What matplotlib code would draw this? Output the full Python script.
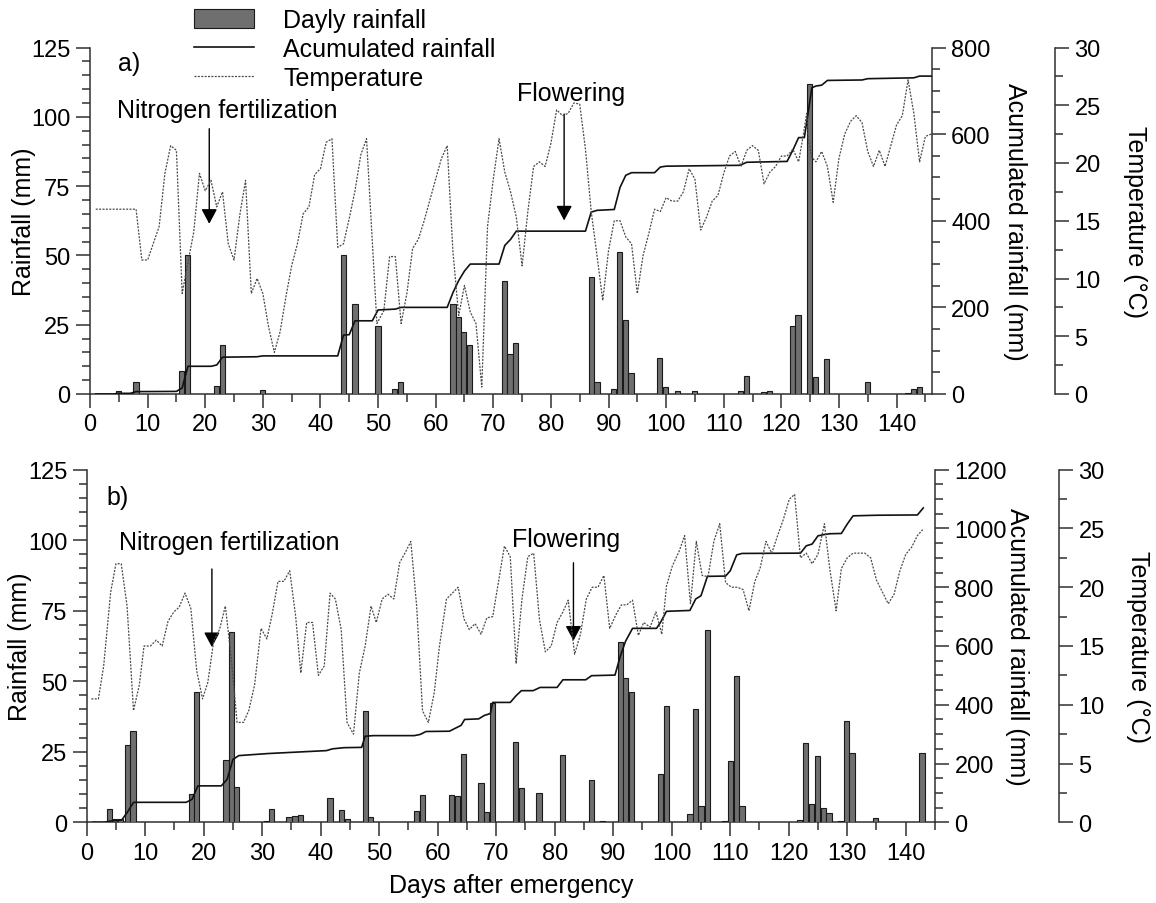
import matplotlib
matplotlib.use('Agg')
import matplotlib.pyplot as plt
from matplotlib.patches import Patch
from matplotlib.lines import Line2D
from matplotlib.ticker import MultipleLocator

plt.rcParams['font.family'] = ['Liberation Sans', 'DejaVu Sans']

# ---------------- Panel a) data ----------------
a_rain_days = [4.9, 8.0, 15.9, 16.9, 22.0, 23.0, 30.0, 44.0, 46.0, 50.0, 52.9, 53.9,
               63.0, 63.9, 64.9, 65.9, 71.9, 72.9, 73.9, 87.0, 88.0, 90.8, 91.9, 92.9,
               93.9, 98.9, 99.9, 102.0, 104.9, 112.9, 113.9, 116.9, 117.9, 121.9, 122.9,
               124.9, 125.9, 127.9, 134.9, 142.0, 143.0, 144.0]
a_rain_mm = [1.2, 4.2, 8.4, 50.0, 3.0, 17.8, 1.4, 50.0, 32.3, 24.7, 1.8, 4.5,
             32.3, 27.9, 22.3, 17.8, 40.9, 14.5, 18.4, 42.1, 4.5, 1.8, 51.2, 26.7,
             7.6, 13.0, 2.4, 1.0, 1.2, 1.2, 6.6, 0.8, 1.0, 24.4, 28.5,
             112.0, 6.0, 12.6, 4.2, 0.3, 1.8, 2.4]

a_acc_days = [1, 4, 5, 7, 8, 15, 16, 17, 21, 22, 23, 29, 30, 43, 44, 45, 46, 49, 50, 53,
              54, 62, 63, 64, 65, 66, 71, 72, 73, 74, 86, 87, 88, 91, 92, 93, 94, 98, 99,
              100, 112.8, 114, 121, 122, 123, 124, 125.3, 126, 127, 128, 134, 135, 143,
              144, 146]
a_acc_mm = [0, 0, 1.5, 1.5, 5.5, 6, 14, 64, 64, 67, 85, 86, 88, 88, 136, 137, 169, 169,
            194, 196, 200, 200, 234, 262, 284, 300, 300, 343, 357, 376, 376, 420, 424,
            426, 477, 505, 511, 511, 524, 526, 528, 535, 537, 563, 592, 592, 707, 711,
            713, 724, 725, 728, 730, 734, 734]

a_temp_days = [1, 8, 9, 10, 12, 13, 14, 15, 16, 16.7, 18, 19, 20, 21, 22, 23, 24, 25, 26,
               27, 28, 29, 30, 31, 32, 33, 34, 35, 36, 37, 38, 39, 40, 41, 42, 43, 44, 45,
               46, 47, 48, 49.8, 51, 52, 53, 54, 55, 56, 57, 58, 59, 60, 61, 62, 63, 64,
               65, 66, 67, 68, 69, 70, 71, 72, 73, 74, 75, 76, 77, 78, 79, 80, 81, 82, 83,
               84, 85, 86, 87, 88, 89, 90, 91, 92, 93, 94, 95, 96, 97, 98, 99, 100, 101,
               102, 103, 104, 105, 106, 107, 108, 109, 110, 111, 112, 113, 114, 115, 116,
               117, 118, 119, 120, 121, 122, 123, 123.8, 124.4, 124.7, 125.3, 126, 127,
               128, 129, 130, 131, 132, 133, 134, 135, 136, 137, 138, 139, 140, 141, 142,
               143, 144, 145, 146]
a_temp_c = [16.0, 16.0, 11.6, 11.6, 14.5, 19.1, 21.5, 21.1, 8.7, 10.6, 14.0, 19.1, 17.6,
            18.5, 16.2, 17.5, 13.0, 11.6, 15.5, 18.5, 8.7, 10.0, 8.7, 5.8, 3.6, 5.4, 8.4,
            11.1, 13.0, 15.6, 16.2, 19.0, 19.5, 21.8, 22.1, 12.7, 13.0, 15.2, 17.6, 20.7,
            22.1, 6.1, 7.2, 11.9, 11.9, 6.1, 8.7, 12.6, 13.4, 15.0, 16.8, 18.6, 20.4, 21.5,
            12.3, 6.8, 9.4, 7.1, 6.1, 0.6, 14.5, 18.6, 22.1, 19.2, 17.5, 15.3, 11.1, 15.8,
            19.7, 20.1, 19.7, 21.7, 24.6, 24.1, 24.3, 25.2, 25.1, 21.2, 15.8, 12.0, 8.1,
            12.4, 15.0, 15.0, 13.6, 13.0, 8.7, 12.0, 13.9, 16.0, 15.8, 17.0, 16.7, 16.7,
            17.5, 19.5, 18.6, 14.2, 15.3, 16.7, 17.2, 19.1, 20.6, 21.0, 19.7, 21.1, 21.5,
            21.1, 18.2, 19.2, 19.7, 20.6, 20.6, 21.2, 20.1, 22.4, 24.3, 22.0, 20.5, 20.1,
            21.0, 19.7, 16.6, 20.4, 22.5, 23.6, 24.1, 23.5, 21.0, 19.7, 21.1, 19.7, 21.5,
            23.3, 24.1, 27.2, 24.3, 20.1, 22.3, 22.5]

# ---------------- Panel b) data ----------------
b_rain_days = [3.9, 4.8, 5.8, 7.0, 7.9, 17.9, 18.8, 23.8, 24.7, 25.6, 30.7, 31.6, 34.6,
               35.6, 36.6, 41.6, 43.6, 44.6, 47.6, 48.5, 56.4, 57.4, 62.4, 63.4, 64.4,
               67.4, 68.4, 69.4, 73.3, 74.3, 77.3, 81.3, 86.3, 88.2, 91.2, 92.1, 93.1,
               98.1, 99.1, 103.1, 104.1, 105.0, 106.1, 109.1, 110.0, 111.1, 112.0, 121.9,
               122.9, 123.9, 124.9, 125.9, 126.9, 128.8, 129.9, 130.8, 134.8, 142.8]
b_rain_mm = [4.6, 1.2, 1.2, 27.4, 32.3, 10.0, 46.3, 22.2, 67.6, 12.6, 0.6, 4.8, 2.0,
             2.4, 2.7, 8.5, 4.3, 1.2, 39.6, 2.0, 4.0, 9.8, 9.6, 9.5, 24.2,
             13.8, 3.8, 42.3, 28.6, 12.0, 10.4, 24.0, 15.0, 0.6, 63.8, 51.2, 46.1,
             17.1, 41.4, 2.9, 40.2, 5.9, 68.3, 0.4, 21.6, 51.8, 5.7, 0.7,
             28.1, 6.5, 23.6, 5.2, 3.2, 0.4, 36.0, 24.6, 1.5, 24.6]

b_acc_days = [1, 3, 4, 5, 6, 7, 8, 17, 18, 19, 23, 24, 25, 26, 31, 35, 41, 42, 44, 47,
              47.6, 49, 56, 57, 58, 62, 63, 64, 64.6, 67, 68, 69, 69.4, 72.4, 73.4, 74.3,
              76.3, 77.5, 80.4, 81.4, 85.3, 86.3, 90.3, 91.2, 92.1, 93.3, 97.4, 98.1,
              99.1, 103.1, 104.1, 105.0, 106.1, 109.2, 110.0, 111.1, 112.0, 122.0, 123.0,
              124.0, 125.0, 126.0, 127.0, 129.0, 130.0, 131.0, 135.0, 142.0, 143.0]
b_acc_mm = [0, 0, 4, 6, 8, 36, 68, 68, 78, 124, 124, 146, 214, 227, 234, 238, 244, 250,
            254, 255, 293, 295, 295, 299, 309, 310, 320, 330, 350, 352, 364, 370, 408,
            408, 431, 448, 448, 459, 459, 485, 485, 499, 501, 565, 616, 660, 660, 681,
            718, 721, 760, 771, 837, 838, 856, 910, 915, 916, 941, 947, 975, 979, 982,
            983, 1015, 1043, 1045, 1046, 1070]

b_temp_days = [0.8, 2.0, 2.9, 4.1, 5.0, 5.9, 6.9, 8.0, 9.0, 9.8, 10.9, 11.9, 12.9, 13.9,
               14.9, 15.8, 16.8, 17.8, 18.8, 19.8, 20.7, 21.7, 22.7, 23.7, 24.7, 25.7,
               26.8, 27.7, 28.7, 29.8, 30.8, 31.7, 32.7, 33.7, 34.7, 35.7, 36.6, 37.6,
               38.6, 39.6, 40.6, 41.6, 42.5, 43.5, 44.5, 45.6, 46.6, 47.6, 48.6, 49.5,
               50.5, 51.5, 52.5, 53.5, 54.5, 55.4, 56.4, 57.4, 58.4, 59.4, 60.3, 61.5,
               62.5, 63.5, 64.5, 65.4, 66.4, 67.4, 68.4, 69.4, 70.4, 71.4, 72.4, 73.4,
               74.4, 75.4, 76.4, 77.4, 78.4, 79.4, 80.4, 81.4, 82.3, 83.4, 84.4, 85.4,
               86.4, 87.4, 88.4, 89.4, 90.4, 91.4, 92.3, 93.3, 94.3, 95.2, 96.3, 97.3,
               98.3, 99.1, 100.1, 101.3, 102.2, 103.2, 104.2, 105.2, 106.2, 107.2, 108.2,
               109.2, 110.2, 111.2, 112.2, 113.2, 114.2, 115.1, 116.1, 117.1, 118.1,
               119.1, 120.1, 121.0, 122.0, 123.0, 124.0, 125.0, 126.1, 127.0, 128.1,
               129.0, 130.0, 131.0, 132.0, 133.0, 134.0, 135.0, 136.0, 137.0, 138.0,
               139.0, 140.0, 141.0, 142.0, 142.9]
b_temp_c = [10.5, 10.5, 13.3, 19.6, 22.0, 22.0, 18.4, 9.5, 11.7, 15.0, 15.0, 15.5, 15.0,
            17.1, 17.9, 18.3, 19.5, 18.2, 12.9, 10.5, 11.9, 15.4, 16.4, 18.4, 14.0, 8.5,
            8.5, 9.5, 11.7, 16.5, 15.6, 17.7, 20.5, 20.5, 21.4, 17.6, 12.7, 17.0, 17.0,
            12.5, 13.3, 19.5, 19.0, 16.4, 8.5, 7.5, 12.7, 15.0, 18.4, 17.0, 19.0, 19.4,
            19.0, 22.1, 23.0, 23.9, 18.4, 9.5, 8.5, 11.0, 15.0, 19.0, 19.5, 20.0, 17.3,
            16.4, 16.9, 16.0, 17.4, 17.5, 20.5, 23.5, 22.6, 13.5, 19.0, 22.6, 22.9, 17.2,
            14.5, 15.0, 17.0, 17.9, 18.9, 14.3, 16.0, 19.0, 20.0, 20.0, 21.0, 16.5, 17.6,
            18.5, 18.5, 18.9, 15.9, 17.0, 16.6, 17.9, 16.0, 20.1, 21.8, 23.1, 24.4, 18.6,
            23.9, 21.0, 20.9, 23.9, 25.4, 20.4, 20.0, 20.0, 19.8, 18.0, 20.5, 21.6, 23.9,
            22.9, 24.4, 25.8, 27.5, 27.9, 22.5, 22.9, 22.0, 22.8, 25.4, 21.6, 18.0, 21.6,
            22.5, 22.9, 22.9, 22.9, 22.5, 20.6, 19.6, 18.6, 19.4, 21.4, 22.8, 23.4, 24.4,
            24.9]

legend_labels = ['Dayly rainfall', 'Acumulated rainfall', 'Temperature']
x_label = 'Days after emergency'

W, H = 1156, 904
fig = plt.figure(figsize=(W / 100, H / 100), dpi=100)

BAR_FC = '#6f6f6f'
SPINE_C = '#303030'
TICK_FS = 17
TXT_FS = 18


def px_rect(left, right, top, bottom):
    return [left / W, 1 - bottom / H, (right - left) / W, (bottom - top) / H]


def style_ticks(axis_obj):
    axis_obj.tick_params(which='major', length=10, width=1.1, direction='out',
                         labelsize=TICK_FS, color=SPINE_C, pad=4)
    axis_obj.tick_params(which='minor', length=5.5, width=1.1, direction='out',
                         color=SPINE_C)


def panel(rect, xmax, rd, rv, ad, av, td, tv, accmax, tpos, tag, tag_xy,
          nit_xy, nit_arrow, flo_xy, flo_arrow, show_xlabel):
    ax = fig.add_axes(rect)
    ax.bar(rd, rv, width=0.9, color=BAR_FC, edgecolor='#1a1a1a', linewidth=0.8,
           zorder=3)
    ax.set_xlim(0, xmax)
    ax.set_ylim(0, 125)
    ax.xaxis.set_major_locator(MultipleLocator(10))
    ax.xaxis.set_minor_locator(MultipleLocator(5))
    ax.yaxis.set_major_locator(MultipleLocator(25))
    ax.yaxis.set_minor_locator(MultipleLocator(5))
    for s in ['top', 'right']:
        ax.spines[s].set_visible(False)
    for s in ['left', 'bottom']:
        ax.spines[s].set_color(SPINE_C)
        ax.spines[s].set_linewidth(1.1)
    style_ticks(ax)
    ax.set_ylabel('Rainfall (mm)', fontsize=TXT_FS)
    ax.yaxis.set_label_coords(-0.064, 0.5)
    if show_xlabel:
        ax.set_xlabel(x_label, fontsize=TXT_FS, labelpad=7)

    ax.text(tag_xy[0], tag_xy[1], tag, fontsize=TXT_FS, va='baseline')
    ax.text(nit_xy[0], nit_xy[1], 'Nitrogen fertilization', fontsize=TXT_FS,
            va='baseline')
    ax.text(flo_xy[0], flo_xy[1], 'Flowering', fontsize=TXT_FS, va='baseline')
    for (x0, y0, y1) in [nit_arrow, flo_arrow]:
        ax.annotate('', xy=(x0, y1), xytext=(x0, y0),
                    arrowprops=dict(arrowstyle='-|>,head_length=0.45,head_width=0.24',
                                    mutation_scale=20, lw=1.0, color='black',
                                    shrinkA=0, shrinkB=0), zorder=6)

    ax2 = ax.twinx()
    ax2.plot(ad, av, color='#111111', lw=1.2, zorder=4)
    ax2.set_ylim(0, accmax)
    ax2.yaxis.set_major_locator(MultipleLocator(200))
    ax2.yaxis.set_minor_locator(MultipleLocator(50))
    for s in ['top', 'left', 'bottom']:
        ax2.spines[s].set_visible(False)
    ax2.spines['right'].set_color(SPINE_C)
    ax2.spines['right'].set_linewidth(1.1)
    style_ticks(ax2)
    ax2.set_ylabel('Acumulated rainfall (mm)', fontsize=TXT_FS, rotation=270,
                   va='bottom')
    ax2.yaxis.set_label_coords(tpos[1], 0.5)

    ax3 = ax.twinx()
    ax3.plot(td, tv, color='#4a4a4a', lw=0.9, linestyle=(0, (1.6, 1.1)), zorder=5)
    ax3.set_ylim(0, 30)
    ax3.yaxis.set_major_locator(MultipleLocator(5))
    ax3.yaxis.set_minor_locator(MultipleLocator(2.5))
    for s in ['top', 'left', 'bottom']:
        ax3.spines[s].set_visible(False)
    ax3.spines['right'].set_position(('axes', tpos[0]))
    ax3.spines['right'].set_color(SPINE_C)
    ax3.spines['right'].set_linewidth(1.1)
    style_ticks(ax3)
    ax3.set_ylabel('Temperature (°C)', fontsize=TXT_FS, rotation=270, va='bottom')
    ax3.yaxis.set_label_coords(tpos[2], 0.5)
    return ax, ax2, ax3


# panel a: axes spans px x 90..931.7, y 48.5..395
rect_a = px_rect(90, 931.7, 48.5, 395)
wa = 931.7 - 90
axa = panel(rect_a, 146.1, a_rain_days, a_rain_mm, a_acc_days, a_acc_mm,
            a_temp_days, a_temp_c, 800,
            ((1055 - 90) / wa, (1003 - 90) / wa, (1123 - 90) / wa),
            'a)', (4.9, 116.8), (4.7, 100.1), (20.7, 95.7, 61.4),
            (74.1, 106.2), (82.3, 101.0, 62.6), False)

# panel b: axes spans px x 86.7..935, y 470.7..823.3
rect_b = px_rect(86.7, 935, 470.7, 823.3)
wb = 935 - 86.7
axb = panel(rect_b, 145.0, b_rain_days, b_rain_mm, b_acc_days, b_acc_mm,
            b_temp_days, b_temp_c, 1200,
            ((1059 - 86.7) / wb, (1005 - 86.7) / wb, (1126 - 86.7) / wb),
            'b)', (3.3, 112.9), (5.5, 96.9), (21.4, 89.8, 62.1),
            (72.7, 98.0), (83.2, 92.0, 64.4), True)

handles = [Patch(facecolor=BAR_FC, edgecolor='#1a1a1a', linewidth=0.8),
           Line2D([], [], color='#111111', lw=1.2),
           Line2D([], [], color='#4a4a4a', lw=0.9, linestyle=(0, (1.6, 1.1)))]
fig.legend(handles, legend_labels, loc='upper left',
           bbox_to_anchor=(194 / W, 1 - 9 / H), frameon=False, fontsize=TXT_FS,
           handlelength=2.4, handleheight=0.8, handletextpad=1.16,
           labelspacing=0.2, borderpad=0, borderaxespad=0)

fig.savefig('out.png', dpi=100)
